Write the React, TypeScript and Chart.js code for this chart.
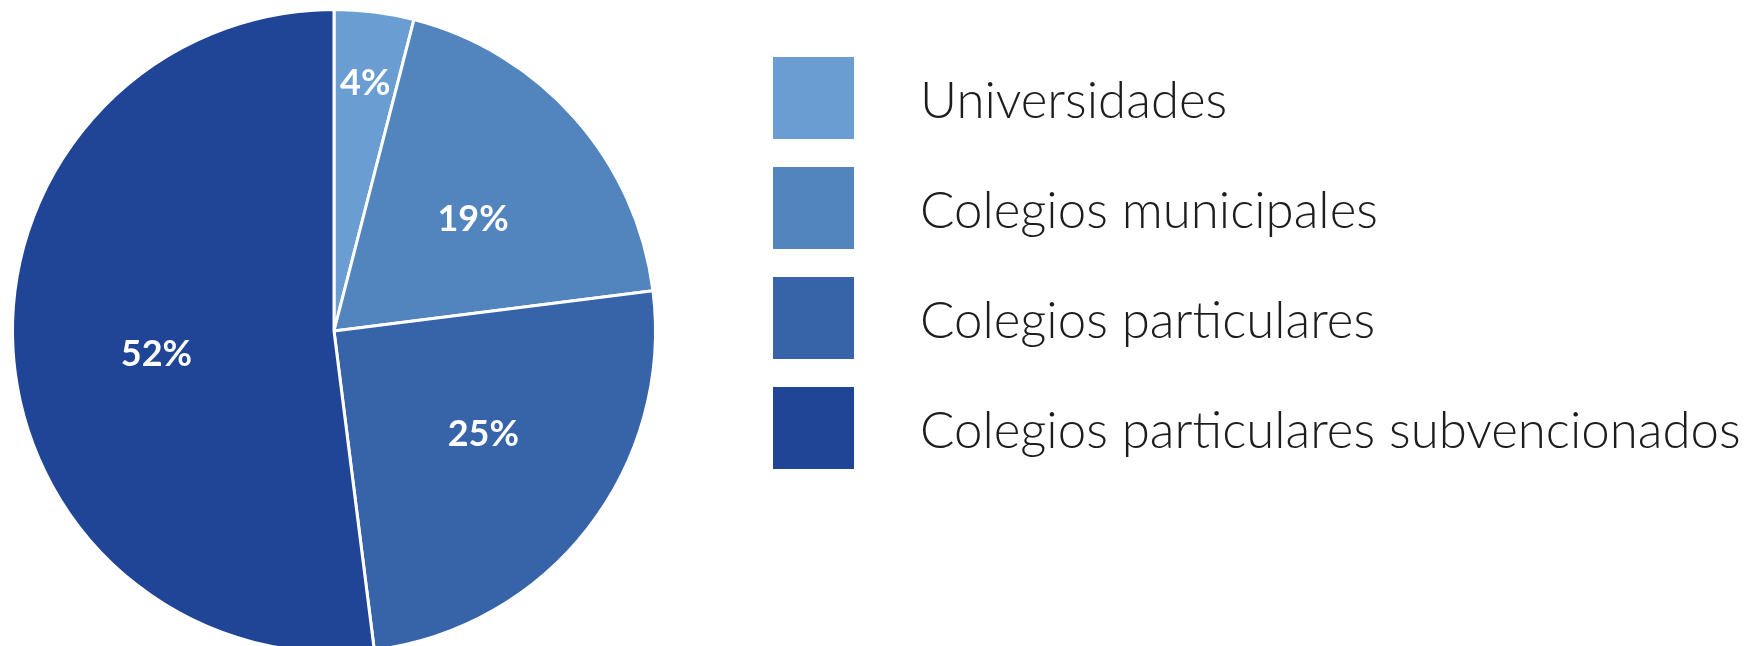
import React, { useEffect, useRef } from "react";
import { Chart, registerables } from "chart.js";
Chart.register(...registerables);

const categories = [
  "Universidades",
  "Colegios municipales",
  "Colegios particulares",
  "Colegios particulares subvencionados",
];
const values = [4, 19, 25, 52];
const colors = ["#6A9ED2", "#5284BE", "#3763A8", "#214596"];
const valueLabels = values.map((v) => v + "%");

// label placement styling (angle nudge in radians, radius fraction)
const labelNudge = [0, 0.045, -0.054, -0.068];
const labelRadius = [0.775, 0.555, 0.565, 0.557];

const sliceLabelPlugin = {
  id: "sliceLabels",
  afterDatasetsDraw(chart: any) {
    const ctx = chart.ctx;
    const meta = chart.getDatasetMeta(0);
    ctx.save();
    ctx.fillStyle = "#ffffff";
    ctx.font = "bold 36px Lato";
    ctx.textAlign = "center";
    ctx.textBaseline = "middle";
    meta.data.forEach((arc: any, i: number) => {
      const p = arc.getProps(["x", "y", "startAngle", "endAngle", "outerRadius"], true);
      const mid = (p.startAngle + p.endAngle) / 2 + labelNudge[i];
      const frac = labelRadius[i];
      ctx.fillText(
        valueLabels[i],
        p.x + Math.cos(mid) * p.outerRadius * frac,
        p.y + Math.sin(mid) * p.outerRadius * frac
      );
    });
    ctx.restore();
  },
};

export default function App() {
  const ref = useRef<HTMLCanvasElement>(null);
  useEffect(() => {
    if (!ref.current) return;
    const chart = new Chart(ref.current, {
      type: "pie",
      data: {
        labels: categories,
        datasets: [
          {
            data: values,
            backgroundColor: colors,
            borderColor: "#ffffff",
            borderWidth: 3,
          },
        ],
      },
      options: {
        responsive: false,
        animation: false,
        layout: { padding: { left: 11, top: 8, right: 43, bottom: 8 } },
        plugins: {
          legend: { display: false },
          tooltip: { enabled: false },
        },
      },
      plugins: [sliceLabelPlugin],
    });
    return () => chart.destroy();
  }, []);

  return (
    <div
      style={{
        position: "absolute",
        left: 0,
        top: 0,
        width: 1759,
        height: 646,
        overflow: "hidden",
        background: "#ffffff",
      }}
    >
      <canvas
        ref={ref}
        width={700}
        height={662}
        style={{ position: "absolute", left: 0, top: 0, width: 700, height: 662 }}
      />
      {categories.map((c, i) => (
        <div
          key={c}
          style={{
            position: "absolute",
            left: 773,
            top: 57 + i * 110,
            height: 82,
            display: "flex",
            alignItems: "center",
          }}
        >
          <div style={{ width: 81, height: 82, background: colors[i] }} />
          <div
            style={{
              marginLeft: 66,
              fontFamily: "Lato",
              fontWeight: 300,
              fontSize: 51,
              color: "#1e1c1d",
              whiteSpace: "nowrap",
            }}
          >
            {c}
          </div>
        </div>
      ))}
    </div>
  );
}
